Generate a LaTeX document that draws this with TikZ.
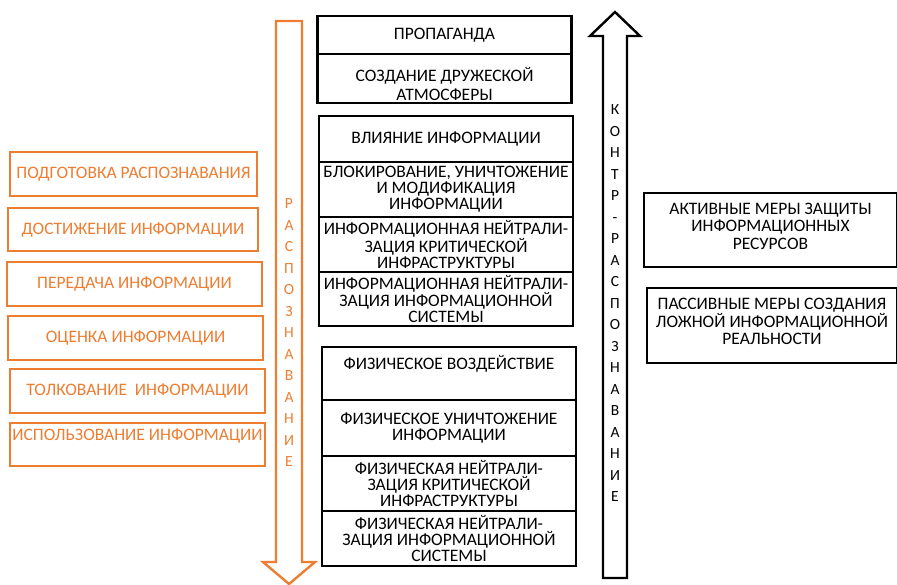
\documentclass[tikz,border=0pt]{standalone}
\usepackage{fontspec}
\setmainfont{Carlito}
\usepackage{xcolor}
\usepackage{tikz}
\usetikzlibrary{positioning}

\definecolor{msorange}{HTML}{ED7D31}

\tikzset{
  obox/.style={draw=msorange, line width=2.8pt, text=msorange, minimum width=255pt, minimum height=44pt,
    inner sep=1pt, align=center, font=\fontsize{17.5}{17}\selectfont},
  bbox/.style={draw=black, line width=2.8pt, minimum width=254pt, inner sep=1pt, outer sep=0pt,
    align=center, font=\fontsize{17.5}{16}\selectfont},
  rbox/.style={bbox, minimum height=74pt, text depth=8pt, font=\fontsize{17.5}{17.5}\selectfont},
  letters/.style={align=center, font=\fontsize{15.5}{21.5}\selectfont},
  toptext/.style={text height=12pt, text depth=21pt},
}

\begin{document}
\begin{tikzpicture}[x=1pt, y=-1pt]
\useasboundingbox (0,0) rectangle (897,585);

% Recognition steps (orange)
\node[obox, minimum width=247pt] (prep) at (133.5,174) {ПОДГОТОВКА РАСПОЗНАВАНИЯ};
\node[obox, minimum width=250pt, minimum height=43pt] (reach) at (133,229.5) {ДОСТИЖЕНИЕ ИНФОРМАЦИИ};
\node[obox] (trans) at (134.5,284) {ПЕРЕДАЧА ИНФОРМАЦИИ};
\node[obox] (eval) at (135.5,338) {ОЦЕНКА ИНФОРМАЦИИ};
\node[obox] (interp) at (137.5,391) {ТОЛКОВАНИЕ\ \ ИНФОРМАЦИИ};
\node[obox, minimum height=43pt, toptext] (use) at (137.5,444.5) {ИСПОЛЬЗОВАНИЕ ИНФОРМАЦИИ};

% Down arrow
\draw[msorange, line width=2.4pt] (276,21) -- (302,21) -- (302,562) -- (315,562) -- (289,584)
  -- (263,562) -- (276,562) -- cycle;
\node[letters, text=msorange] (rasp) at (289,333) {Р\\А\\С\\П\\О\\З\\Н\\А\\В\\А\\Н\\И\\Е};

% Propaganda group
\node[bbox, minimum height=38pt] (prop) at (444.5,35) {ПРОПАГАНДА};
\node[bbox, minimum height=49pt, font=\fontsize{17.5}{19}\selectfont, text height=44pt, text depth=0pt,
  below=0pt of prop] (atm) {СОЗДАНИЕ ДРУЖЕСКОЙ\\АТМОСФЕРЫ};

% Information group
\node[bbox, minimum height=46pt] (infl) at (446,139) {ВЛИЯНИЕ ИНФОРМАЦИИ};
\node[bbox, minimum height=55pt, below=0pt of infl] (block)
  {БЛОКИРОВАНИЕ, УНИЧТОЖЕНИЕ\\И МОДИФИКАЦИЯ\\ИНФОРМАЦИИ};
\node[bbox, minimum height=55pt, below=0pt of block] (icrit)
  {ИНФОРМАЦИОННАЯ НЕЙТРАЛИ-\\ЗАЦИЯ КРИТИЧЕСКОЙ\\ИНФРАСТРУКТУРЫ};
\node[bbox, minimum height=54pt, below=0pt of icrit] (isys)
  {ИНФОРМАЦИОННАЯ НЕЙТРАЛИ-\\ЗАЦИЯ ИНФОРМАЦИОННОЙ\\СИСТЕМЫ};

% Physical group
\node[bbox, minimum height=53pt, toptext] (phys) at (449,373.5) {ФИЗИЧЕСКОЕ ВОЗДЕЙСТВИЕ};
\node[bbox, minimum height=56pt, below=0pt of phys] (pdest)
  {ФИЗИЧЕСКОЕ УНИЧТОЖЕНИЕ\\ИНФОРМАЦИИ};
\node[bbox, minimum height=55pt, below=0pt of pdest] (pcrit)
  {ФИЗИЧЕСКАЯ НЕЙТРАЛИ-\\ЗАЦИЯ КРИТИЧЕСКОЙ\\ИНФРАСТРУКТУРЫ};
\node[bbox, minimum height=55pt, below=0pt of pcrit] (psys)
  {ФИЗИЧЕСКАЯ НЕЙТРАЛИ-\\ЗАЦИЯ ИНФОРМАЦИОННОЙ\\СИСТЕМЫ};

% Up arrow
\draw[line width=2.4pt] (603,578) -- (603,36) -- (590,36) -- (615,12) -- (640,36) -- (627,36)
  -- (627,578) -- cycle;
\node[letters] (kontr) at (615,303.5) {К\\О\\Н\\Т\\Р\\-\\Р\\А\\С\\П\\О\\З\\Н\\А\\В\\А\\Н\\И\\Е};

% Counter measures
\node[rbox, minimum width=253pt] (active) at (770.5,230)
  {АКТИВНЫЕ МЕРЫ ЗАЩИТЫ\\ИНФОРМАЦИОННЫХ\\РЕСУРСОВ};
\node[rbox, minimum width=250pt, minimum height=75pt] (passive) at (772,325.5)
  {ПАССИВНЫЕ МЕРЫ СОЗДАНИЯ\\ЛОЖНОЙ ИНФОРМАЦИОННОЙ\\РЕАЛЬНОСТИ};
\end{tikzpicture}
\end{document}
